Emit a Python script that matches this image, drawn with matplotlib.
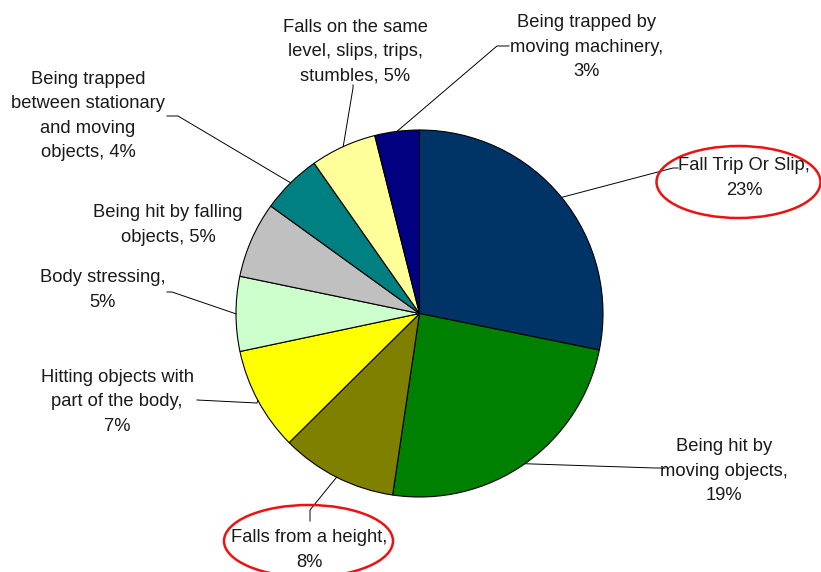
import matplotlib.pyplot as plt
import numpy as np
from matplotlib.patches import Ellipse

# data (clockwise from 12 o'clock)
labels = ['Fall Trip Or Slip,\n23%',
          'Being hit by\nmoving objects,\n19%',
          'Falls from a height,\n8%',
          'Hitting objects with\npart of the body,\n7%',
          'Body stressing,\n5%',
          'Being hit by falling\nobjects, 5%',
          'Being trapped\nbetween stationary\nand moving\nobjects, 4%',
          'Falls on the same\nlevel, slips, trips,\nstumbles, 5%',
          'Being trapped by\nmoving machinery,\n3%']
# slice sizes
values = [22.3, 19.1, 8.1, 7.2, 5.2, 5.3, 4.2, 4.6, 3.1]
colors = ['#003366', '#008000', '#808000', '#FFFF00', '#CCFFCC',
          '#C0C0C0', '#008080', '#FFFF99', '#000080']

# layout in pixel coords (y measured from the top)
W, H = 821, 572
cx, cy, R = 419.5, 313.5, 183.5
text_pos = [(744, 178), (724, 471), (309, 550), (117, 402), (103, 290),
            (168, 225), (88, 116), (355, 52), (587, 47)]
elbow = [(673, 168), (655, 468), (310, 510), (257, 403), (172, 292),
         None, (178, 116), (353, 88), (497, 46)]
tick_end = [(678, 168), (665, 468), (310, 521), (197, 400), (167, 292),
            None, (167, 116), (353, 85), (509, 46)]
circled = {0: (738.5, 182, 164, 72), 2: (308.5, 541, 169, 72)}

plt.rcParams['font.family'] = ['Liberation Sans', 'DejaVu Sans']

fig = plt.figure(figsize=(W / 100, H / 100), dpi=100)
ax = fig.add_axes([0, 0, 1, 1])

wedges, _ = ax.pie(values, colors=colors, startangle=90, counterclock=False,
                   center=(cx, H - cy), radius=R,
                   wedgeprops=dict(edgecolor='black', linewidth=0.8))
ax.set_xlim(0, W)
ax.set_ylim(0, H)
ax.set_aspect('equal')
ax.axis('off')

for i, w in enumerate(wedges):
    mid = np.deg2rad((w.theta1 + w.theta2) / 2)
    ex, ey = cx + R * np.cos(mid), (H - cy) + R * np.sin(mid)
    if elbow[i] is not None:
        bx, by = elbow[i]
        tx, ty = tick_end[i]
        ax.plot([ex, bx, tx], [ey, H - by, H - ty], color='black', lw=0.7,
                zorder=1)
    px, py = text_pos[i]
    ax.text(px, H - py, labels[i], ha='center', va='center', fontsize=13.2,
            linespacing=1.57, color='#1a1a1a')

for i, (ex_, ey_, ew, eh) in circled.items():
    ax.add_patch(Ellipse((ex_, H - ey_), ew, eh, fill=False,
                         edgecolor='#EE1111', linewidth=1.8))

fig.savefig('out.png', dpi=100)
